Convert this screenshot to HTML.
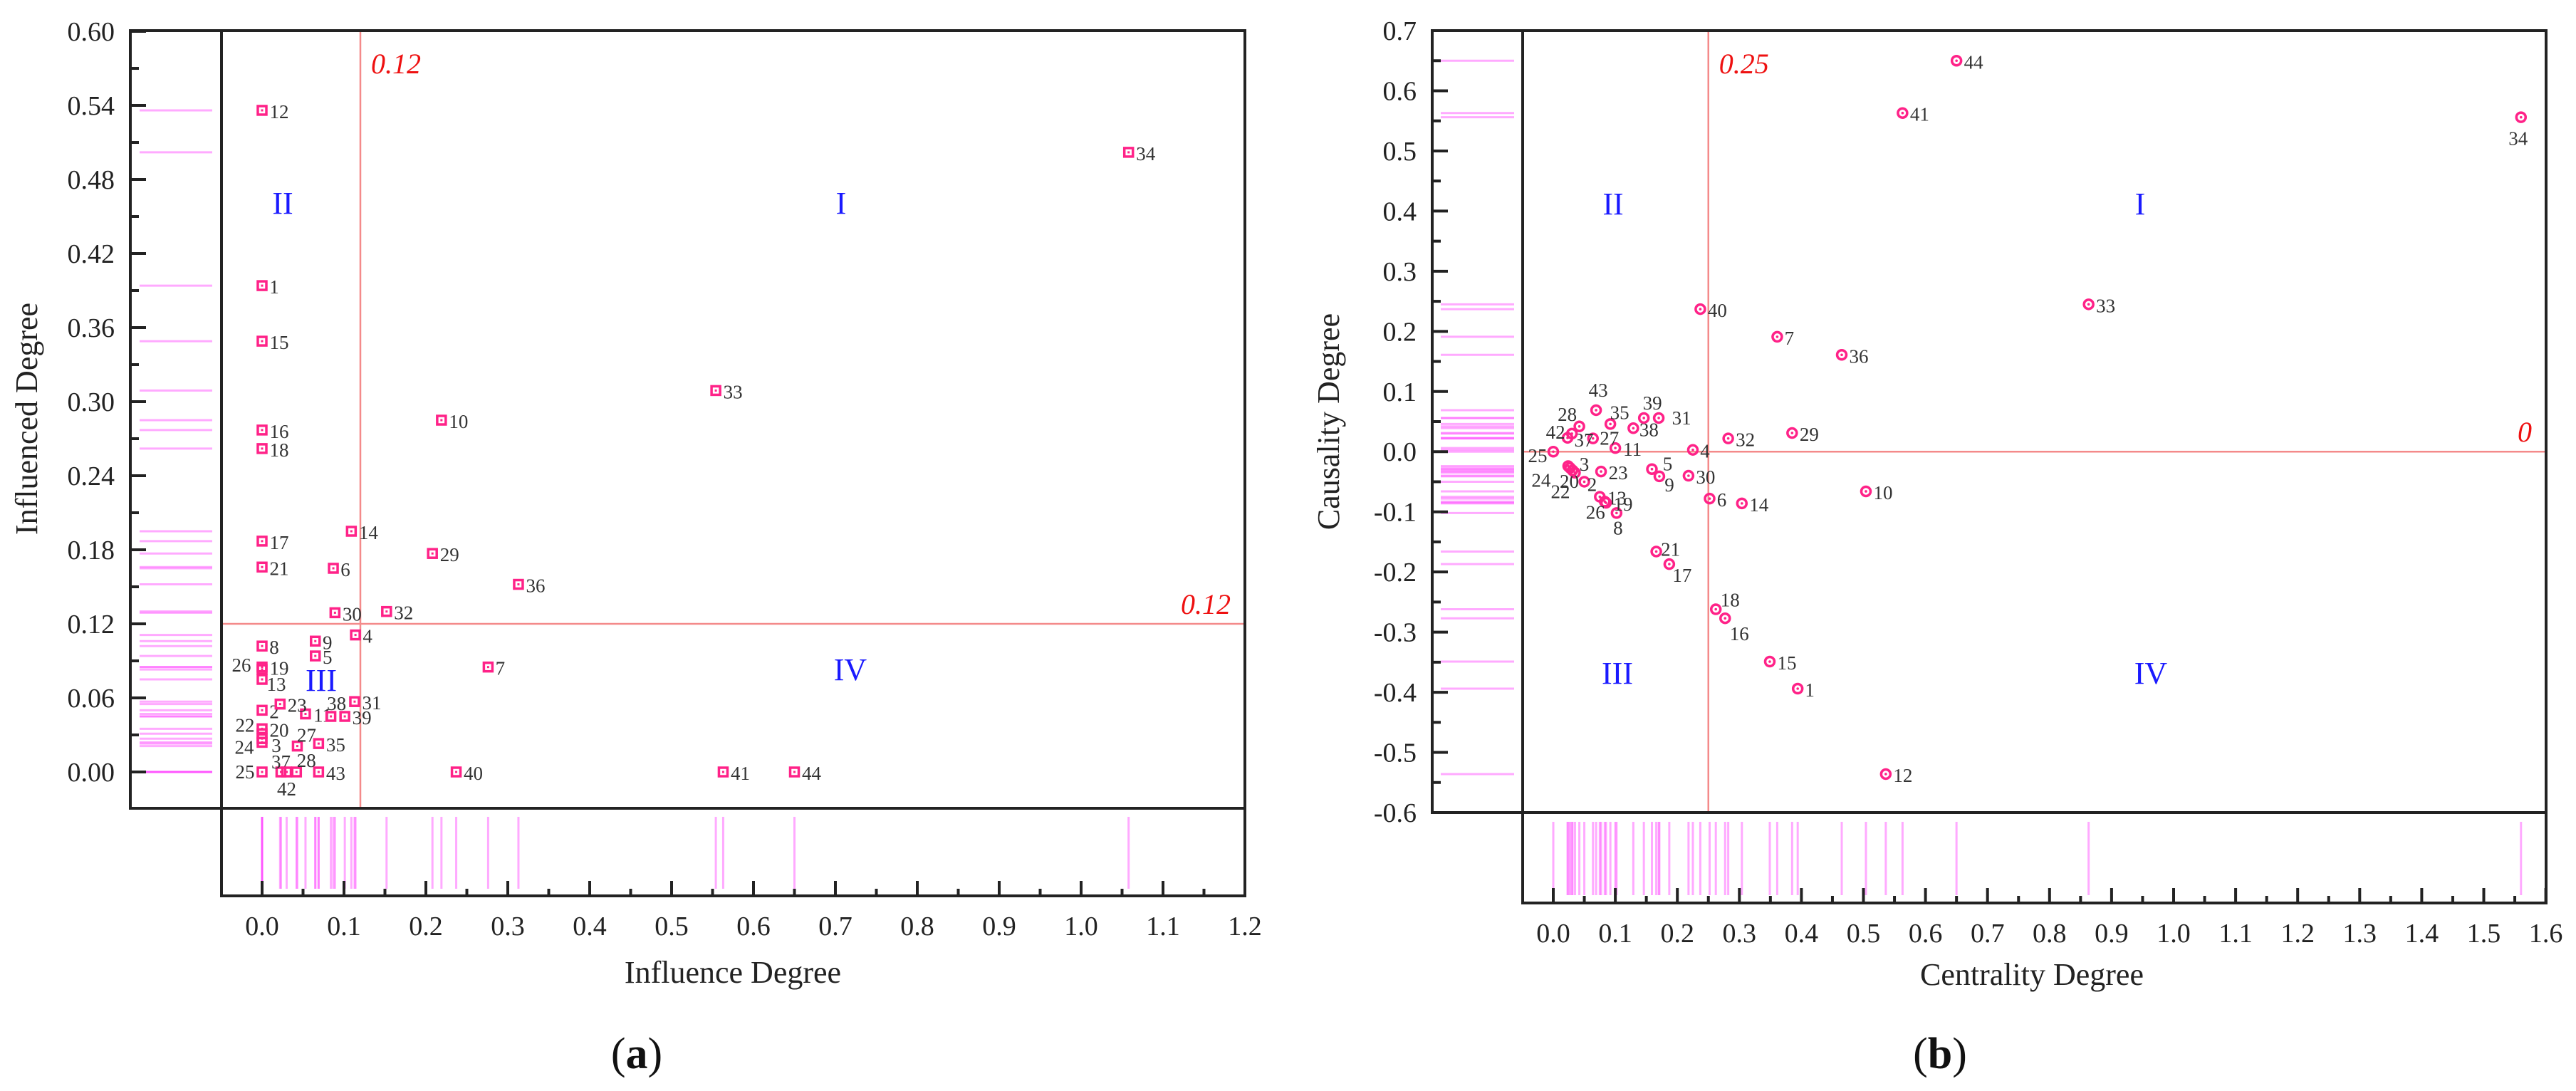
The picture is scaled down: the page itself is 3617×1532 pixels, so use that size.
<!DOCTYPE html>
<html><head><meta charset="utf-8">
<style>
html,body{margin:0;padding:0;background:#fff;}
svg{display:block;font-family:"Liberation Serif",serif;}
</style></head>
<body>
<svg id="fig" width="3617" height="1532" viewBox="0 0 3617 1532" xmlns="http://www.w3.org/2000/svg"></svg>
<script>
// ---------- DATA ----------
const ids = [1,2,3,4,5,6,7,8,9,10,11,12,13,14,15,16,17,18,19,20,21,22,23,24,25,26,27,28,29,30,31,32,33,34,35,36,37,38,39,40,41,42,43,44];
const influenceD = [0,0,0,0.114,0.065,0.087,0.276,0,0.065,0.219,0.053,0,0,0.109,0,0,0,0,0,0,0,0,0.022,0,0,0,0.043,0.042,0.208,0.089,0.113,0.152,0.554,1.058,0.069,0.313,0.023,0.084,0.101,0.237,0.563,0.030,0.069,0.650];
const influencedR = [0.394,0.050,0.027,0.111,0.094,0.165,0.085,0.102,0.106,0.285,0.047,0.536,0.075,0.195,0.349,0.277,0.187,0.262,0.085,0.035,0.166,0.031,0.055,0.024,0,0.083,0.021,0,0.177,0.129,0.057,0.130,0.309,0.502,0.023,0.152,0,0.045,0.045,0,0,0,0,0];
const centrality = [0.394,0.050,0.027,0.225,0.159,0.252,0.361,0.102,0.171,0.504,0.100,0.536,0.075,0.304,0.349,0.277,0.187,0.262,0.085,0.035,0.166,0.031,0.077,0.024,0,0.083,0.064,0.042,0.385,0.218,0.170,0.282,0.863,1.560,0.092,0.465,0.023,0.129,0.146,0.237,0.563,0.030,0.069,0.650];
const causality = [-0.394,-0.050,-0.027,0.003,-0.029,-0.078,0.191,-0.102,-0.041,-0.066,0.006,-0.536,-0.075,-0.086,-0.349,-0.277,-0.187,-0.262,-0.085,-0.035,-0.166,-0.031,-0.033,-0.024,0,-0.083,0.022,0.042,0.031,-0.040,0.056,0.022,0.245,0.556,0.046,0.161,0.023,0.039,0.056,0.237,0.563,0.030,0.069,0.650];
const xTicksA = ["0.0","0.1","0.2","0.3","0.4","0.5","0.6","0.7","0.8","0.9","1.0","1.1","1.2"];
const yTicksA = ["0.00","0.06","0.12","0.18","0.24","0.30","0.36","0.42","0.48","0.54","0.60"];
const xTicksB = ["0.0","0.1","0.2","0.3","0.4","0.5","0.6","0.7","0.8","0.9","1.0","1.1","1.2","1.3","1.4","1.5","1.6"];
const yTicksB = ["-0.6","-0.5","-0.4","-0.3","-0.2","-0.1","0.0","0.1","0.2","0.3","0.4","0.5","0.6","0.7"];
const thresholdA = [0.12, 0.12];
const thresholdB = [0.25, 0];

// label placement tweaks (relative px offsets of label centre)
const labelOffA = {26:[-29,-6],22:[-24,-12],24:[-25,7],25:[-24,0],42:[0,24],37:[0,-14],28:[14,-16],27:[13,-15],3:[20,10],38:[8,-18],13:[20,7]};
const labelOffB = {34:[-4,30],43:[3,-28],28:[-17,-17],35:[13,-16],39:[12,-21],31:[32,0],38:[22,2],42:[-23,-2],37:[23,3],27:[23,0],25:[-22,6],3:[20,-5],24:[-38,20],20:[-8,12],22:[-17,30],2:[11,4],5:[22,-7],9:[14,12],26:[-13,15],8:[2,21],17:[18,16],16:[20,22],18:[20,-13],21:[20,-3]};

const NS="http://www.w3.org/2000/svg";
const svg=document.getElementById('fig');
function el(tag,attrs,parent){const e=document.createElementNS(NS,tag);for(const k in attrs)e.setAttribute(k,attrs[k]);(parent||svg).appendChild(e);return e;}

function panel(cfg){
  const g=el('g',{});
  
  
  const X=v=>cfg.x0+(v-cfg.xmin)*cfg.xs;
  const Y=v=>cfg.y0-(v-cfg.ymin)*cfg.ys;
  const rugCol="#ff55ff";
  // left rug
  cfg.ys_vals.forEach((v,i)=>{
    const l=el('line',{x1:cfg.rugL[0],x2:cfg.rugL[1],y1:Y(v),y2:Y(v),stroke:rugCol,'stroke-width':3,'stroke-opacity':0.5},g);
    
    
  });
  // bottom rug
  cfg.xs_vals.forEach((v,i)=>{
    const l=el('line',{x1:X(v),x2:X(v),y1:cfg.rugB[0],y2:cfg.rugB[1],stroke:rugCol,'stroke-width':3,'stroke-opacity':0.5},g);
    
    
  });
  // threshold lines
  const vx=X(cfg.thr[0]), hy=Y(cfg.thr[1]);
  const tv=el('line',{x1:vx,x2:vx,y1:cfg.top,y2:cfg.bot,stroke:'#f48a8a','stroke-width':2.5},g);
  
  
  const th=el('line',{x1:cfg.inner,x2:cfg.right,y1:hy,y2:hy,stroke:'#f48a8a','stroke-width':2.5},g);
  
  
  const t1=el('text',{x:vx+15,y:cfg.top+60,fill:'#ee1111','font-size':40,'font-style':'italic'},g);
  t1.textContent=cfg.thrLabels[0];
  
  
  const t2=el('text',{x:cfg.right-20,y:hy-14,fill:'#ee1111','font-size':40,'font-style':'italic','text-anchor':'end'},g);
  t2.textContent=cfg.thrLabels[1];
  
  
  // frame
  const fc="#222", fw=4;
  const frame=[[cfg.left,cfg.top,cfg.right,cfg.top],[cfg.right,cfg.top,cfg.right,cfg.rugBot],[cfg.left,cfg.top,cfg.left,cfg.bot],[cfg.left,cfg.bot,cfg.right,cfg.bot],[cfg.inner,cfg.top,cfg.inner,cfg.rugBot],[cfg.inner,cfg.rugBot,cfg.right,cfg.rugBot]];
  frame.forEach(f=>{
    const l=el('line',{x1:f[0],y1:f[1],x2:f[2],y2:f[3],stroke:fc,'stroke-width':fw,'stroke-linecap':'square'},g);
    
    
  });
  // y ticks
  cfg.yTicks.forEach((t,i)=>{
    const v=parseFloat(t), y=Y(v);
    const tk=el('line',{x1:cfg.left,x2:cfg.left+22,y1:y,y2:y,stroke:fc,'stroke-width':4},g);
    
    
    if(i<cfg.yTicks.length-1){
      const ym=Y(v+cfg.yStep/2);
      const mk=el('line',{x1:cfg.left,x2:cfg.left+12,y1:ym,y2:ym,stroke:fc,'stroke-width':4},g);
      
      
    }
    const tx=el('text',{x:cfg.left-22,y:y+13,'font-size':38,'text-anchor':'end',fill:'#222'},g);
    tx.textContent=t;
    
    
  });
  // x ticks
  cfg.xTicks.forEach((t,i)=>{
    const v=parseFloat(t), x=X(v);
    const tk=el('line',{x1:x,x2:x,y1:cfg.rugBot,y2:cfg.rugBot-21,stroke:fc,'stroke-width':4},g);
    
    
    if(i<cfg.xTicks.length-1){
      const xm=X(v+cfg.xStep/2);
      const mk=el('line',{x1:xm,x2:xm,y1:cfg.rugBot,y2:cfg.rugBot-10,stroke:fc,'stroke-width':4},g);
      
      
    }
    const tx=el('text',{x:x,y:cfg.rugBot+55,'font-size':38,'text-anchor':'middle',fill:'#222'},g);
    tx.textContent=t;
    
    
  });
  // quadrant labels
  cfg.quads.forEach(q=>{
    const t=el('text',{x:q[1],y:q[2]+15,'font-size':44,'text-anchor':'middle',fill:'#1a1aff'},g);
    t.textContent=q[0];
    
    
  });
  // points
  cfg.xs_vals.forEach((v,i)=>{
    const px=X(v), py=Y(cfg.ys_vals[i]);
    let m;
    if(cfg.marker==='square'){
      m=el('rect',{x:px-6,y:py-6,width:12,height:12,fill:'none',stroke:'#ff2288','stroke-width':3.5},g);
      el('rect',{x:px-1.5,y:py-1.5,width:3,height:3,fill:'#ff2288'},g);
    } else {
      m=el('circle',{cx:px,cy:py,r:6.5,fill:'none',stroke:'#ff2288','stroke-width':3.5},g);
      el('circle',{cx:px,cy:py,r:1.8,fill:'#ff2288'},g);
    }
    
    
    const s=String(ids[i]);
    const off=cfg.offs[ids[i]]||[10+s.length*7,2];
    const lt=el('text',{x:px+off[0],y:py+off[1]+9,'font-size':27,'text-anchor':'middle',fill:'#333'},g);
    lt.textContent=s;
    
    
  });
  // titles
  const xt=el('text',{x:cfg.xTitle[0],y:cfg.xTitle[1],'font-size':44,'text-anchor':'middle',fill:'#222'},g);
  xt.textContent=cfg.xTitle[2];
  
  
  const yt=el('text',{x:0,y:0,'font-size':44,'text-anchor':'middle',fill:'#222',transform:`translate(${cfg.yTitle[0]},${cfg.yTitle[1]}) rotate(-90)`},g);
  yt.textContent=cfg.yTitle[2];
  
  
  const cap=el('text',{x:cfg.cap[0],y:cfg.cap[1],'font-size':62,'text-anchor':'middle',fill:'#111'},g);
  cap.innerHTML='(<tspan font-weight="bold">'+cfg.cap[2]+'</tspan>)';
  
  
}

panel({name:'panel-a',xs_vals:influenceD,ys_vals:influencedR,xmin:0,ymin:0,x0:368,xs:1150,y0:1084,ys:1733.3,
  left:183,inner:311,right:1748,top:43,bot:1135,rugBot:1258,rugL:[196,298],rugB:[1147,1248],
  thr:thresholdA,thrLabels:['0.12','0.12'],xTicks:xTicksA,yTicks:yTicksA,xStep:0.1,yStep:0.06,
  quads:[['II',397,285],['I',1181,285],['III',451,955],['IV',1194,940]],marker:'square',offs:labelOffA,
  xTitle:[1029,1380,'Influence Degree'],yTitle:[52,588,'Influenced Degree'],cap:[894,1500,'a']});

panel({name:'panel-b',xs_vals:centrality,ys_vals:causality,xmin:0,ymin:-0.6,x0:2181,xs:871,y0:1141,ys:844.6,
  left:2011,inner:2138,right:3575,top:43,bot:1141,rugBot:1268,rugL:[2023,2126],rugB:[1154,1257],
  thr:thresholdB,thrLabels:['0.25','0'],xTicks:xTicksB,yTicks:yTicksB,xStep:0.1,yStep:0.1,
  quads:[['II',2265,286],['I',3005,286],['III',2271,945],['IV',3020,945]],marker:'circle',offs:labelOffB,
  xTitle:[2853,1383,'Centrality Degree'],yTitle:[1880,592,'Causality Degree'],cap:[2724,1500,'b']});
</script>
</body></html>
